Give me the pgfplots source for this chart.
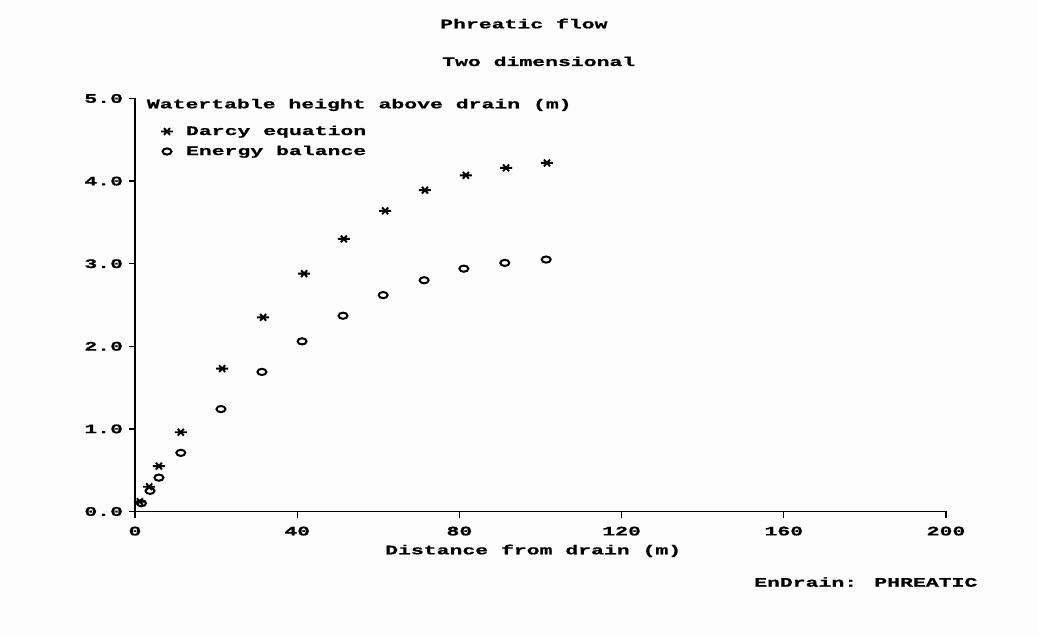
\documentclass[border=0pt]{standalone}
\usepackage{pgfplots}
\pgfplotsset{compat=1.18}
\usepackage{pgfplotstable}
\usepackage{fontspec}
\newfontfamily\mono{Liberation Mono}[FakeStretch=1.65, FakeBold=0.8]
\newcommand\tf{\mono\bfseries\fontsize{13bp}{15bp}\selectfont}
\definecolor{bg}{HTML}{FCFCFC}

\pgfplotstableread{
x y
1.2 0.12
3.5 0.30
5.9 0.55
11.3 0.96
21.5 1.73
31.6 2.35
41.7 2.88
51.5 3.30
61.7 3.64
71.5 3.89
81.6 4.07
91.5 4.16
101.6 4.22
}\darcy

\pgfplotstableread{
x y
1.6 0.10
3.7 0.25
5.9 0.41
11.3 0.71
21.2 1.24
31.3 1.69
41.2 2.06
51.3 2.37
61.2 2.62
71.3 2.80
81.1 2.94
91.2 3.01
101.4 3.05
}\energy

\begin{document}
\begin{tikzpicture}
\fill[bg] (0bp,0bp) rectangle (1038bp,636bp);
\begin{axis}[
  scale only axis, width=811bp, height=413bp,
  at={(135bp,124.5bp)}, anchor=south west,
  xmin=0, xmax=200, ymin=0, ymax=5,
  axis x line*=bottom, axis y line*=left,
  axis line style={line width=1.3bp, black},
  tick style={line width=1.3bp, black},
  tick align=outside, major tick length=6.5bp,
  xtick={0,40,...,200}, ytick={0,1,...,5},
  ticklabel style={font=\tf, inner sep=0pt},
  /pgf/number format/assume math mode=true,
  yticklabel style={xshift=-5.3bp, /pgf/number format/.cd, fixed, fixed zerofill, precision=1},
  xticklabel style={yshift=-8.5bp},
  clip=false,
  legend cell align=left,
  legend image code/.code={
    \path[draw=none, fill=none] (-8bp,-4.5bp) rectangle (8bp,4.5bp);
    \draw[#1] plot coordinates {(0bp,0bp)};
  },
  legend style={draw=none, fill=none, inner sep=0pt, outer sep=0pt,
    at={(axis description cs:0.0296,0.9358)}, anchor=north west,
    nodes={font=\tf, inner sep=0pt, text height=10bp, text depth=3bp},
    column sep=11bp, row sep=7bp},
]
\addplot[only marks, mark=asterisk, mark size=6bp,
  mark options={yscale=0.65, rotate=90, line width=1.9bp, black}] table {\darcy};
\addlegendentry{Darcy equation}
\addplot[only marks, mark=o, mark size=3.1bp,
  mark options={xscale=1.45, line width=2bp, black}] table {\energy};
\addlegendentry{Energy balance}
\end{axis}
\node[anchor=base west, inner sep=0pt, font=\tf] at (440bp,607.7bp) {Phreatic flow};
\node[anchor=base west, inner sep=0pt, font=\tf] at (442bp,570bp) {Two dimensional};
\node[anchor=base west, inner sep=0pt, font=\tf] at (146.7bp,527.7bp) {Watertable height above drain (m)};
\node[anchor=base west, inner sep=0pt, font=\tf] at (385bp,81.7bp) {Distance from drain (m)};
\node[anchor=base west, inner sep=0pt, font=\tf] at (754bp,49.3bp) {EnDrain: PHREATIC};
\end{tikzpicture}
\end{document}
